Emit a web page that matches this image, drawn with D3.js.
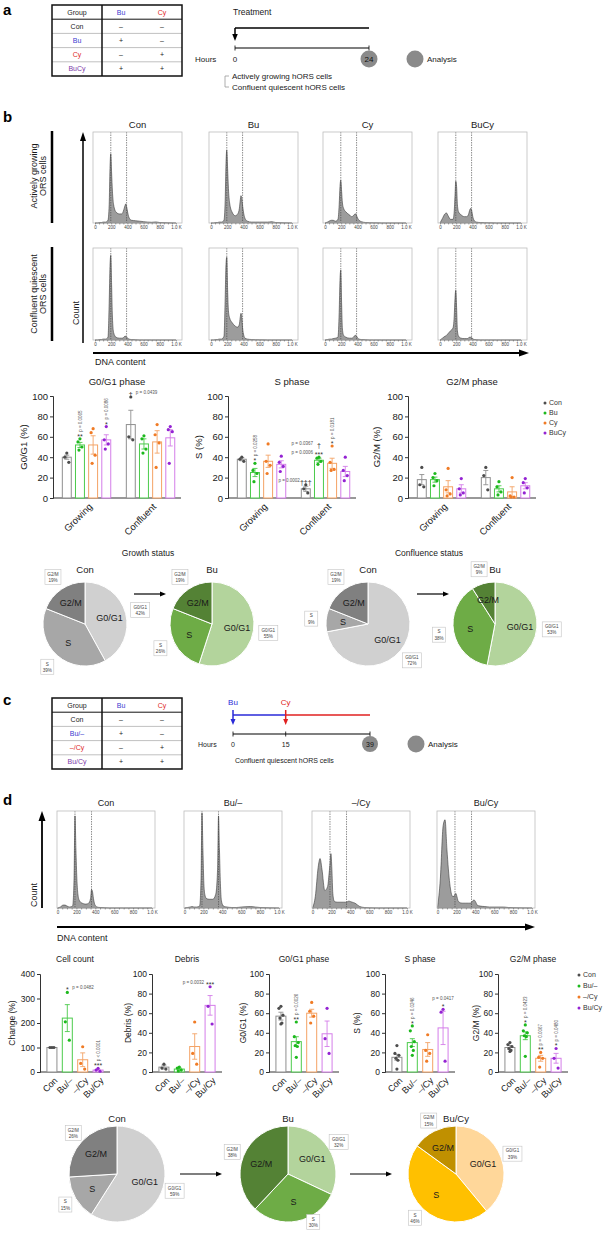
<!DOCTYPE html>
<html>
<head>
<meta charset="utf-8">
<script src="https://cdn.jsdelivr.net/npm/d3@7/dist/d3.min.js"></script>
<style>
  body { margin: 0; background: #fff; }
</style>
</head>
<body>
<div id="figure"></div>
<script>
// ---------------- data ----------------

// treatment tables (panels a and c)
const tableAGroups = ["Con", "Bu", "Cy", "BuCy"];
const tableCGroups = ["Con", "Bu/–", "–/Cy", "Bu/Cy"];
const tableBu = ["–", "+", "–", "+"];
const tableCy = ["–", "–", "+", "+"];

// DNA content histograms, counts as % of frame height
const dnaBins = [0, 30, 60, 80, 100, 130, 160, 175, 185, 195, 205, 215, 230, 260, 300, 330, 350, 360, 370, 380, 390, 405, 420, 450, 500, 550, 600, 700, 750, 800, 1000];
const dnaTicks = [0, 200, 400, 600, 800, 1000];
const histGrowing = [
  [0, 0, 0.5, 0.5, 1, 1, 3, 20, 60, 76, 55, 35, 20, 12, 10, 10, 13, 16, 19, 21, 18, 11, 6, 3, 2.5, 2, 1.5, 0.8, 1.2, 0.5, 0],
  [0, 0, 0.5, 0.5, 1, 1, 3, 25, 65, 80, 60, 38, 22, 12, 8, 10, 16, 24, 30, 27, 19, 10, 5, 2, 1, 1, 1, 1, 1.5, 0.5, 0],
  [0, 1, 2.5, 3, 3, 2, 4, 20, 40, 47, 35, 22, 16, 12, 9, 7, 8, 9, 10, 10, 8, 5, 3, 1.5, 0.5, 0.3, 0.2, 0, 0, 0, 0],
  [0, 5, 10, 11, 8, 4, 4, 12, 30, 46, 40, 20, 12, 9, 7, 7, 9, 12, 15, 16, 14, 7, 3, 1, 0.5, 0.3, 0.2, 0, 0, 0, 0]
];
const histConfluent = [
  [0, 0, 0.5, 0.5, 1, 1, 3, 40, 80, 92, 60, 25, 8, 3, 2, 2, 2.5, 3.5, 4, 4, 3, 2, 1, 0.5, 0.3, 0, 0, 0, 0, 0, 0],
  [0, 0, 0.5, 0.5, 1, 1, 4, 45, 82, 90, 55, 32, 24, 19, 15, 14, 17, 24, 29, 25, 13, 5, 2, 1, 0.5, 0.3, 0.2, 0, 0, 0, 0],
  [0, 0.5, 1, 1, 1.5, 2, 3, 30, 65, 76, 40, 12, 5, 3, 2, 2, 3, 4, 5, 5, 4, 2, 1, 0.5, 0.3, 0, 0, 0, 0, 0, 0],
  [0, 2, 4, 5, 7, 10, 13, 25, 45, 54, 35, 10, 4, 2, 1.5, 1.5, 2, 3, 3, 3, 2.5, 1.5, 0.5, 0.3, 0, 0, 0, 0, 0, 0, 0]
];
const histSequential = [
  [0, 1, 3, 3, 2, 1, 2, 30, 95, 60, 30, 15, 8, 5, 4, 5, 10, 19, 17, 10, 5, 2, 1, 0.5, 0.3, 0, 0, 0, 0, 0, 0],
  [0, 0.5, 1, 1.5, 1, 1, 2, 30, 98, 60, 25, 14, 10, 9, 9, 14, 40, 95, 60, 25, 8, 3, 1.5, 1, 0.5, 0.5, 1, 1.5, 1, 0.5, 0],
  [0, 12, 42, 51, 40, 18, 22, 35, 45, 56, 40, 15, 7, 6, 6, 6, 6, 6, 6.5, 7, 7, 6.5, 6, 5, 1.5, 0.5, 0.2, 0, 0, 0, 0],
  [0, 30, 85, 91, 60, 25, 12, 12, 14, 15, 12, 8, 6, 5, 5, 5, 5, 6, 7, 8, 8, 6, 3, 2, 1.5, 1, 1, 1, 0.5, 0.3, 0]
];

// panel b bars: [Growing, Confluent] x [Con, Bu, Cy, BuCy]
const stateGroups = ["Growing", "Confluent"];
const drugSeries = ["Con", "Bu", "Cy", "BuCy"];
const pctTicks = [0, 20, 40, 60, 80, 100];
const g1Mean = [[40, 52, 52, 57], [72, 53, 55, 59]];
const g1Sem = [[2, 2.5, 9, 5], [14, 5, 11, 8]];
const g1Pts = [
  [[44, 40, 35], [58, 55, 50, 47], [68, 64, 42, 34], [70, 57, 53, 48]],
  [[99, 60, 57], [61, 58, 48, 44], [72, 62, 54, 30], [70, 67, 65, 34]]
];
const sMean = [[38, 25, 36, 33], [9, 37, 34, 26]];
const sSem = [[1.5, 4, 6, 3.5], [2.5, 2, 5, 5]];
const sPts = [
  [[40, 38, 36], [34, 27, 24, 16], [53, 36, 32, 24], [41, 35, 31, 26]],
  [[13, 9, 5], [40, 39, 36, 33], [51, 35, 28, 27], [40, 27, 22, 17]]
];
const g2Mean = [[18, 18, 11, 9], [20, 9, 6, 12]];
const g2Sem = [[5, 2.5, 6, 4], [7, 3, 5, 3]];
const g2Pts = [
  [[30, 13, 11], [24, 20, 17, 12], [29, 8, 4, 2], [19, 9, 5, 3]],
  [[30, 22, 8], [16, 11, 6, 3], [20, 2, 1, 1], [19, 15, 10, 5]]
];

// panel d bars: [Con, Bu/–, –/Cy, Bu/Cy]
const seqSeries = ["Con", "Bu/–", "–/Cy", "Bu/Cy"];
const countTicks = [0, 100, 200, 300, 400];
const countMean = [[100, 220, 50, 8]];
const countSem = [[1, 55, 28, 3]];
const countPts = [[[100, 100, 100], [325, 205, 130], [103, 35, 12], [15, 8, 3]]];
const debrisMean = [[5, 3, 26, 68]];
const debrisSem = [[2, 1, 13, 10]];
const debrisPts = [[[8, 4, 3], [5, 4, 2, 1], [51, 19, 8], [87, 67, 49]]];
const dG1Mean = [[57, 31, 60, 39]];
const dG1Sem = [[4, 5, 4, 13]];
const dG1Pts = [[[67, 65, 58, 55, 50, 49], [51, 36, 30, 27, 26, 15], [71, 62, 57, 50], [65, 34, 19]]];
const dSMean = [[15, 30, 23, 45]];
const dSSem = [[3, 4, 7, 17]];
const dSPts = [[[27, 19, 17, 14, 12, 3], [47, 42, 31, 26, 22, 17], [38, 22, 19, 11], [64, 61, 11]]];
const dG2Mean = [[25, 37, 14, 14]];
const dG2Sem = [[2, 4, 3, 5]];
const dG2Pts = [[[30, 28, 26, 24, 22, 21], [48, 42, 40, 37, 36, 16], [20, 15, 14, 5], [24, 14, 4]]];

// pies: share of G0/G1, S, G2/M (%)
const phases = ["G0/G1", "S", "G2/M"];
const pieGrowCon = [42, 39, 19];
const pieGrowBu = [55, 26, 19];
const pieConfCon = [72, 9, 19];
const pieConfBu = [53, 38, 9];
const pieSeqCon = [59, 15, 26];
const pieSeqBu = [32, 30, 38];
const pieSeqBuCy = [39, 46, 15];

// significance marks
const g1Notes = [
  { g: 0, s: 1, mark: "**", p: "p = 0.0065", mode: "v" },
  { g: 0, s: 3, mark: "*", p: "p = 0.0086", mode: "v" },
  { g: 1, s: 0, mark: "†", p: "p = 0.0439", mode: "r" }
];
const sNotes = [
  { g: 0, s: 1, mark: "*", p: "p = 0.0258", mode: "v" },
  { g: 1, s: 0, mark: "†††", p: "p = 0.0002", mode: "l" },
  { g: 1, s: 1, mark: "***", p: "p = 0.0006", mode: "l" },
  { g: 1, s: 1, mark: "†", p: "p = 0.0367", mode: "l", lift: 9 },
  { g: 1, s: 2, mark: "*", p: "p = 0.0181", mode: "v" }
];
const countNotes = [
  { g: 0, s: 1, mark: "*", p: "p = 0.0482", mode: "r" },
  { g: 0, s: 3, mark: "***", p: "p < 0.0001", mode: "v" }
];
const debrisNotes = [{ g: 0, s: 3, mark: "***", p: "p = 0.0032", mode: "l" }];
const dG1Notes = [{ g: 0, s: 1, mark: "**", p: "p = 0.0026", mode: "v" }];
const dSNotes = [
  { g: 0, s: 1, mark: "*", p: "p = 0.0246", mode: "v" },
  { g: 0, s: 3, mark: "*", p: "p = 0.0417", mode: "a" }
];
const dG2Notes = [
  { g: 0, s: 1, mark: "*", p: "p = 0.0423", mode: "v" },
  { g: 0, s: 2, mark: "**", p: "p = 0.0067", mode: "v" },
  { g: 0, s: 3, mark: "*", p: "p = 0.0480", mode: "v" }
];

// ---------------- styles ----------------
const FONT = "'Liberation Sans', Arial, sans-serif";
const dotCol = ["#4d4d4d", "#1db91d", "#f07b25", "#9423d3"];
const barCol = ["#8f8f8f", "#4ccb4c", "#f4a365", "#d47de9"];
const greyPie = ["#d0d0d0", "#a7a7a7", "#808080"];
const greenPie = ["#b3d49c", "#6eac46", "#548235"];
const goldPie = ["#ffd79a", "#ffc000", "#c09000"];
const nameCol = ["#222222", "#3a3acf", "#e02828", "#7b3aa8"];
const jitter = [0, -2, 2, -1, 1, 0];

const svg = d3.select("#figure").append("svg")
  .attr("width", 603).attr("height", 1234)
  .attr("font-family", FONT);
svg.append("rect").attr("width", 603).attr("height", 1234).attr("fill", "#fff");

// ---------------- helpers ----------------
function txt(g, x, y, s, size, anchor, fill) {
  return g.append("text").attr("x", x).attr("y", y)
    .attr("font-size", size).attr("text-anchor", anchor || "start")
    .attr("fill", fill || "#1a1a1a").text(s);
}
function vtxt(g, x, y, s, size, anchor, fill) {
  return g.append("text").attr("transform", `translate(${x},${y}) rotate(-90)`)
    .attr("font-size", size).attr("text-anchor", anchor || "middle")
    .attr("fill", fill || "#1a1a1a").text(s);
}
function line(g, x1, y1, x2, y2, col, w) {
  return g.append("line").attr("x1", x1).attr("y1", y1).attr("x2", x2).attr("y2", y2)
    .attr("stroke", col || "#000").attr("stroke-width", w || 1);
}
function head(g, x, y, dir, len, wid, fill) {
  const h = wid / 2;
  const p = {
    up: [[x, y], [x - h, y + len], [x + h, y + len]],
    down: [[x, y], [x - h, y - len], [x + h, y - len]],
    right: [[x, y], [x - len, y - h], [x - len, y + h]]
  }[dir];
  g.append("path").attr("d", "M" + p.join("L") + "Z").attr("fill", fill || "#000");
}

// treatment table
function drawTable(g, x, y, names) {
  const rowH = 14.2, w = 130, divX = x + 50;
  const cols = [x + 25, x + 69, x + 110];
  const n = names.length + 1;
  for (let i = 2; i < n; i++) line(g, x, y + i * rowH, x + w, y + i * rowH, "#b0b0b0", 0.8);
  line(g, x, y + rowH, x + w, y + rowH, "#111", 1);
  line(g, divX, y, divX, y + n * rowH, "#111", 1.5);
  g.append("rect").attr("x", x).attr("y", y).attr("width", w).attr("height", n * rowH)
    .attr("fill", "none").attr("stroke", "#111").attr("stroke-width", 1.5);
  txt(g, cols[0], y + rowH / 2 + 2.5, "Group", 7, "middle", "#222");
  txt(g, cols[1], y + rowH / 2 + 2.5, "Bu", 7, "middle", nameCol[1]);
  txt(g, cols[2], y + rowH / 2 + 2.5, "Cy", 7, "middle", nameCol[2]);
  names.forEach((nm, i) => {
    const yy = y + (i + 1.5) * rowH + 2.5;
    txt(g, cols[0], yy, nm, 7, "middle", nameCol[i]);
    txt(g, cols[1], yy, tableBu[i], 7, "middle", "#222");
    txt(g, cols[2], yy, tableCy[i], 7, "middle", "#222");
  });
}

// DNA histogram in a framed box
function drawHist(g, x0, y0, w, h, vals, dashes, pad) {
  const x = d3.scaleLinear().domain([0, 1000]).range([x0 + pad[0], x0 + w - pad[1]]);
  const y = d3.scaleLinear().domain([0, 100]).range([y0 + h, y0]);
  const area = d3.area().x((d, i) => x(dnaBins[i])).y0(y0 + h).y1(d => y(d)).curve(d3.curveMonotoneX);
  g.append("path").datum(vals).attr("d", area)
    .attr("fill", "#9c9c9c").attr("stroke", "#3a3a3a").attr("stroke-width", 0.6);
  dashes.forEach(v => line(g, x(v), y0, x(v), y0 + h, "#444", 0.6).attr("stroke-dasharray", "1.5,1"));
  g.append("rect").attr("x", x0).attr("y", y0).attr("width", w).attr("height", h)
    .attr("fill", "none").attr("stroke", "#bdbdbd").attr("stroke-width", 0.8);
  const ax = g.append("g").attr("transform", `translate(0,${y0 + h})`)
    .call(d3.axisBottom(x).tickValues(d3.range(0, 1001, 50)).tickSize(1.5).tickPadding(1.5)
      .tickFormat(d => dnaTicks.includes(d) ? (d === 1000 ? "1.0 K" : d) : ""));
  ax.attr("font-family", FONT).attr("font-size", 4.5);
  ax.select(".domain").remove();
  ax.selectAll("line").attr("stroke", "#555").attr("stroke-width", 0.5);
  ax.selectAll("text").attr("fill", "#444");
}

// bar + dot chart
function drawBars(g, c) {
  const y = d3.scaleLinear().domain([0, c.yMax]).range([c.top + c.h, c.top]);
  const xg = d3.scaleBand().domain(c.groups).range([c.x0, c.x0 + c.w])
    .paddingInner(c.gPad[0]).paddingOuter(c.gPad[1]).align(c.gPad[2]);
  const xs = d3.scaleBand().domain(c.series).range([0, xg.bandwidth()])
    .paddingInner(c.sPad[0]).paddingOuter(c.sPad[1]);
  const bw = xs.bandwidth();
  const cx = (gi, si) => xg(c.groups[gi]) + xs(c.series[si]) + bw / 2;

  txt(g, c.x0 + c.w / 2, c.titleY, c.title, c.fs, "middle");
  vtxt(g, c.ylabX, c.top + c.h / 2, c.ylab, c.fs, "middle");

  const ax = g.append("g").attr("transform", `translate(${c.x0},0)`)
    .call(d3.axisLeft(y).tickValues(c.ticks).tickSize(3).tickPadding(2));
  ax.attr("font-family", FONT).attr("font-size", c.fs);
  ax.selectAll("path, line").attr("stroke", "#333");
  ax.selectAll("text").attr("fill", "#1a1a1a");
  line(g, c.x0, y(0), c.x0 + c.w, y(0), "#333", 1);

  c.groups.forEach((gn, gi) => c.series.forEach((sn, si) => {
    const m = c.mean[gi][si], e = c.sem[gi][si], x = cx(gi, si);
    g.append("rect").attr("x", x - bw / 2).attr("y", y(m))
      .attr("width", bw).attr("height", y(0) - y(m))
      .attr("fill", "#fff").attr("stroke", barCol[si]).attr("stroke-width", 1);
    const lo = Math.max(0, m - e), hi = m + e;
    line(g, x, y(lo), x, y(hi), barCol[si], 0.9);
    [lo, hi].forEach(v => line(g, x - 2.5, y(v), x + 2.5, y(v), barCol[si], 0.9));
    g.selectAll(null).data(c.pts[gi][si]).join("circle")
      .attr("cx", (v, k) => x + jitter[k % jitter.length])
      .attr("cy", v => y(v)).attr("r", 1.6).attr("fill", dotCol[si]);
  }));

  const rot = (x, s) => g.append("text")
    .attr("transform", `translate(${x},${y(0) + 6}) rotate(-45)`)
    .attr("text-anchor", "end").attr("dy", "0.5em")
    .attr("font-size", c.xfs).attr("fill", "#1a1a1a").text(s);
  if (c.labelBy === "group") c.groups.forEach(gn => rot(xg(gn) + xg.bandwidth() / 2 + 3, gn));
  else c.series.forEach((sn, si) => rot(cx(0, si) + 3, sn));

  (c.notes || []).forEach(n => {
    const top = Math.max(d3.max(c.pts[n.g][n.s]), c.mean[n.g][n.s] + c.sem[n.g][n.s]);
    const x = cx(n.g, n.s), yy = y(top) - 3 - (n.lift || 0);
    txt(g, x, yy + 3, n.mark, 7, "middle", "#333");
    if (n.mode === "v") vtxt(g, x + 1.8, yy - 4, n.p, 4.5, "start", "#555");
    else if (n.mode === "r") txt(g, x + 5, yy, n.p, 4.5, "start", "#555");
    else if (n.mode === "l") txt(g, x - 6, yy, n.p, 4.5, "end", "#555");
    else txt(g, x, yy - 6, n.p, 4.5, "middle", "#555");
  });
}

function drawLegend(g, x, y0, step, names) {
  names.forEach((n, i) => {
    g.append("circle").attr("cx", x).attr("cy", y0 + i * step).attr("r", 1.5).attr("fill", dotCol[i]);
    txt(g, x + 4, y0 + i * step + 2.4, n, 7, "start", "#333");
  });
}

// pie with phase labels and callout boxes
function drawPie(g, cx, cy, r, vals, cols, title, titleY, boxGap, yLimit) {
  const arcs = d3.pie().sort(null).value(d => d)(vals);
  const arc = d3.arc().innerRadius(0).outerRadius(r);
  const mid = d3.arc().innerRadius(r * 0.6).outerRadius(r * 0.6);
  const pg = g.append("g").attr("transform", `translate(${cx},${cy})`);
  pg.selectAll("path").data(arcs).join("path").attr("d", arc)
    .attr("fill", (d, i) => cols[i]).attr("stroke", "#fff").attr("stroke-width", 1);
  pg.selectAll("text.ph").data(arcs).join("text").attr("class", "ph")
    .attr("transform", d => `translate(${mid.centroid(d)})`)
    .attr("text-anchor", "middle").attr("dy", "0.35em")
    .attr("font-size", 9).attr("fill", "#1a1a1a")
    .text((d, i) => phases[i]);
  arcs.forEach((d, i) => {
    const a = (d.startAngle + d.endAngle) / 2, dist = r + boxGap;
    let bx = Math.sin(a) * dist, by = -Math.cos(a) * dist;
    if (cy + by > yLimit) { by = yLimit - cy; bx += 14; }
    const bw = [19, 13, 16][i], bh = 15;
    pg.append("rect").attr("x", bx - bw / 2).attr("y", by - bh / 2).attr("width", bw).attr("height", bh)
      .attr("fill", "#fff").attr("stroke", "#c4c4c4").attr("stroke-width", 0.6);
    txt(pg, bx, by - 1.2, phases[i], 4.6, "middle", "#444");
    txt(pg, bx, by + 5, vals[i] + "%", 4.6, "middle", "#444");
  });
  txt(g, cx, titleY, title, 9.5, "middle");
}

function arrowRight(g, x1, x2, y) {
  line(g, x1, y, x2 - 5, y, "#000", 1.2);
  head(g, x2, y, "right", 6, 5);
}

// ---------------- panel labels ----------------
[["a", 15], ["b", 122], ["c", 705], ["d", 805]].forEach(([l, y]) =>
  txt(svg, 3, y, l, 15, "start", "#000").attr("font-weight", "bold"));

// ---------------- panel a ----------------
const gA = svg.append("g");
drawTable(gA, 52, 5, tableAGroups);
const tA = d3.scaleLinear().domain([0, 24]).range([235, 369]);
txt(gA, 233, 15, "Treatment", 8.5);
line(gA, tA(0), 28, tA(24), 28, "#000", 1.5);
line(gA, tA(0), 28, tA(0), 35, "#000", 1.5);
head(gA, tA(0), 41, "down", 7, 5.5);
line(gA, tA(0), 48, tA(24), 48, "#000", 1.2);
[0, 24].forEach(t => line(gA, tA(t), 45.5, tA(t), 50.5, "#000", 0.8));
txt(gA, 195, 62, "Hours", 8);
txt(gA, tA(0), 62, "0", 8, "middle");
gA.append("circle").attr("cx", tA(24)).attr("cy", 59).attr("r", 8.5).attr("fill", "#8a8a8a");
txt(gA, tA(24), 62, "24", 8, "middle", "#111");
gA.append("circle").attr("cx", 415).attr("cy", 59).attr("r", 8.5).attr("fill", "#8a8a8a");
txt(gA, 427, 62, "Analysis", 8);
gA.append("path").attr("d", "M229,76H225V87H229").attr("fill", "none").attr("stroke", "#999").attr("stroke-width", 0.8);
txt(gA, 232, 79, "Actively growing hORS cells", 8);
txt(gA, 232, 90, "Confluent quiescent hORS cells", 8);

// ---------------- panel b ----------------
const gB = svg.append("g");
const boxB = [93, 209, 323, 438];
boxB.forEach((x0, i) => {
  txt(gB, x0 + 44.5, 128, drugSeries[i], 9.5, "middle");
  drawHist(gB, x0, 132, 89, 91, histGrowing[i], [195, 390], [2, 6]);
  drawHist(gB, x0, 248, 89, 92, histConfluent[i], [195, 390], [2, 6]);
});
line(gB, 52, 131, 52, 223, "#000", 2.5);
line(gB, 52, 247, 52, 341, "#000", 2.5);
vtxt(gB, 37, 176, "Actively growing", 9);
vtxt(gB, 46, 176, "ORS cells", 9);
vtxt(gB, 37, 294, "Confluent quiescent", 9);
vtxt(gB, 46, 294, "ORS cells", 9);
line(gB, 83, 343, 83, 140, "#000", 1.5);
head(gB, 83, 132, "up", 9, 6);
vtxt(gB, 79, 313, "Count", 9);
line(gB, 93, 353, 520, 353, "#000", 1.8);
head(gB, 529, 353, "right", 10, 7);
txt(gB, 95, 365, "DNA content", 9);

const bCommon = {
  top: 396, h: 102, yMax: 100, ticks: pctTicks, groups: stateGroups, series: drugSeries,
  gPad: [0.12, 0.06, 0.7], sPad: [0.32, 0.3], fs: 9.5, xfs: 9.5, titleY: 384.5, labelBy: "group"
};
drawBars(gB, Object.assign({}, bCommon, { x0: 53, w: 128, title: "G0/G1 phase", ylab: "G0/G1 (%)", ylabX: 27, mean: g1Mean, sem: g1Sem, pts: g1Pts, notes: g1Notes }));
drawBars(gB, Object.assign({}, bCommon, { x0: 228, w: 128, title: "S phase", ylab: "S (%)", ylabX: 202, mean: sMean, sem: sSem, pts: sPts, notes: sNotes }));
drawBars(gB, Object.assign({}, bCommon, { x0: 408, w: 128, title: "G2/M phase", ylab: "G2/M (%)", ylabX: 380, mean: g2Mean, sem: g2Sem, pts: g2Pts }));
drawLegend(gB, 545, 403, 10, drugSeries);

txt(gB, 148, 556, "Growth status", 8.5, "middle");
txt(gB, 429, 556, "Confluence status", 8.5, "middle");
drawPie(gB, 85, 624, 42, pieGrowCon, greyPie, "Con", 572.5, 15, 700);
drawPie(gB, 212, 624, 42, pieGrowBu, greenPie, "Bu", 572.5, 15, 700);
drawPie(gB, 368, 624, 42, pieConfCon, greyPie, "Con", 572.5, 15, 700);
drawPie(gB, 495, 624, 42, pieConfBu, greenPie, "Bu", 572.5, 15, 700);
arrowRight(gB, 134, 166, 594);
arrowRight(gB, 417, 449, 594);

// ---------------- panel c ----------------
const gC = svg.append("g");
drawTable(gC, 52, 698, tableCGroups);
const tC = d3.scaleLinear().domain([0, 39]).range([233, 370]);
txt(gC, tC(0), 705, "Bu", 8, "middle", "#2a2ad8");
txt(gC, tC(15), 705, "Cy", 8, "middle", "#e02020");
line(gC, tC(0), 715, tC(15), 715, "#2a2ad8", 1.5);
line(gC, tC(15), 715, tC(39), 715, "#e02020", 1.5);
line(gC, tC(0), 710, tC(0), 720, "#2a2ad8", 1.5);
head(gC, tC(0), 725, "down", 6, 5, "#2a2ad8");
line(gC, tC(15), 710, tC(15), 720, "#e02020", 1.5);
head(gC, tC(15), 725, "down", 6, 5, "#e02020");
line(gC, tC(0), 734, tC(39), 734, "#000", 1.2);
[0, 15, 39].forEach(t => line(gC, tC(t), 731.5, tC(t), 736.5, "#000", 0.8));
txt(gC, 198, 746.5, "Hours", 7);
txt(gC, tC(0), 746.5, "0", 7, "middle");
txt(gC, tC(15), 746.5, "15", 7, "middle");
gC.append("circle").attr("cx", tC(39)).attr("cy", 744).attr("r", 8).attr("fill", "#8a8a8a");
txt(gC, tC(39), 746.5, "39", 7, "middle", "#111");
gC.append("circle").attr("cx", 416).attr("cy", 744).attr("r", 8.5).attr("fill", "#8a8a8a");
txt(gC, 428, 747, "Analysis", 8);
txt(gC, 235, 762.5, "Confluent quiescent hORS cells", 7);

// ---------------- panel d ----------------
const gD = svg.append("g");
const boxD = [57, 184, 312, 437];
boxD.forEach((x0, i) => {
  txt(gD, x0 + 49, 806, seqSeries[i], 9, "middle");
  drawHist(gD, x0, 811, 98, 97, histSequential[i], [185, 360], [0.5, 3]);
});
line(gD, 42, 908, 42, 820, "#000", 1.8);
head(gD, 42, 811, "up", 10, 7);
vtxt(gD, 37, 895, "Count", 9);
line(gD, 57, 927, 526, 927, "#000", 1.8);
head(gD, 535, 927, "right", 10, 7);
txt(gD, 57, 941, "DNA content", 9);

const dCommon = {
  top: 974, h: 98, groups: ["all"], series: seqSeries,
  gPad: [0, 0, 0.5], sPad: [0.35, 0.45], fs: 8.5, xfs: 9, titleY: 962, labelBy: "series", w: 70
};
drawBars(gD, Object.assign({}, dCommon, { x0: 40, yMax: 400, ticks: countTicks, title: "Cell count", ylab: "Change (%)", ylabX: 15, mean: countMean, sem: countSem, pts: countPts, notes: countNotes }));
drawBars(gD, Object.assign({}, dCommon, { x0: 152, yMax: 100, ticks: pctTicks, title: "Debris", ylab: "Debris (%)", ylabX: 131, mean: debrisMean, sem: debrisSem, pts: debrisPts, notes: debrisNotes }));
drawBars(gD, Object.assign({}, dCommon, { x0: 269, yMax: 100, ticks: pctTicks, title: "G0/G1 phase", ylab: "G0/G1 (%)", ylabX: 246, mean: dG1Mean, sem: dG1Sem, pts: dG1Pts, notes: dG1Notes }));
drawBars(gD, Object.assign({}, dCommon, { x0: 385, yMax: 100, ticks: pctTicks, title: "S phase", ylab: "S (%)", ylabX: 360, mean: dSMean, sem: dSSem, pts: dSPts, notes: dSNotes }));
drawBars(gD, Object.assign({}, dCommon, { x0: 498, yMax: 100, ticks: pctTicks, title: "G2/M phase", ylab: "G2/M (%)", ylabX: 479, mean: dG2Mean, sem: dG2Sem, pts: dG2Pts, notes: dG2Notes }));
drawLegend(gD, 579, 975, 11, seqSeries);

drawPie(gD, 117, 1174, 48, pieSeqCon, greyPie, "Con", 1121.5, 12, 1222);
drawPie(gD, 288, 1174, 48, pieSeqBu, greenPie, "Bu", 1121.5, 12, 1222);
drawPie(gD, 456, 1174, 48, pieSeqBuCy, goldPie, "Bu/Cy", 1121.5, 12, 1222);
arrowRight(gD, 180, 222, 1174);
arrowRight(gD, 350, 392, 1174);
</script>
</body>
</html>
